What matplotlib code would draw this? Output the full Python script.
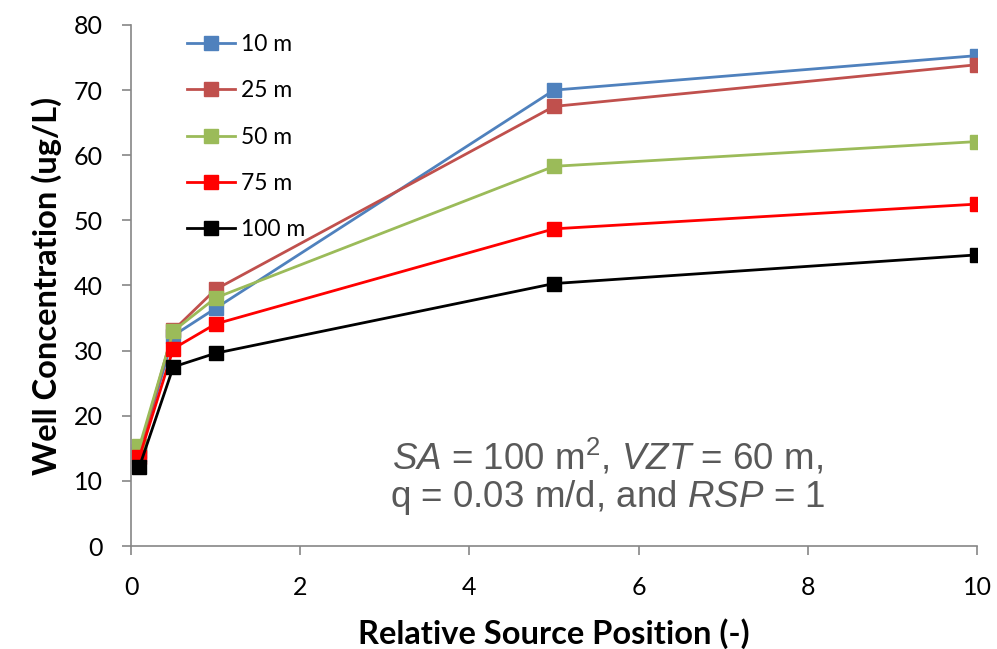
import matplotlib.pyplot as plt

# relative source position and well concentration for each distance
x_pos = [0.1, 0.5, 1, 5, 10]
labels = ['10 m', '25 m', '50 m', '75 m', '100 m']
conc_10 = [14.2, 32.3, 36.5, 70.0, 75.3]
conc_25 = [14.6, 33.1, 39.4, 67.5, 73.9]
conc_50 = [15.3, 33.0, 38.1, 58.3, 62.1]
conc_75 = [13.7, 30.3, 34.1, 48.7, 52.5]
conc_100 = [12.2, 27.5, 29.6, 40.3, 44.7]
colors = ['#4F81BD', '#C0504D', '#9BBB59', '#FF0000', '#000000']

plt.rcParams['font.family'] = ['Lato', 'DejaVu Sans']
plt.rcParams['mathtext.fontset'] = 'custom'
plt.rcParams['mathtext.rm'] = 'Liberation Sans'
plt.rcParams['mathtext.it'] = 'Liberation Sans:italic'

fig = plt.figure(figsize=(9.97, 6.49), dpi=100)
ax = fig.add_axes([0.1314, 0.1587, 0.8486, 0.8028])

for vals, lab, col in zip([conc_10, conc_25, conc_50, conc_75, conc_100], labels, colors):
    ax.plot(x_pos, vals, color=col, lw=2, marker='s', ms=10, label=lab)

ax.set_xlim(0, 10)
ax.set_ylim(0, 80)
ax.set_xticks([0, 2, 4, 6, 8, 10])
ax.set_yticks(range(0, 81, 10))
ax.tick_params(labelsize=18, length=6.5, width=1.2, color='#868686', direction='out')
ax.tick_params(axis='x', pad=15)
ax.tick_params(axis='y', pad=14)
for s in ['top', 'right']:
    ax.spines[s].set_visible(False)
for s in ['left', 'bottom']:
    ax.spines[s].set_color('#868686')
    ax.spines[s].set_linewidth(1.2)

ax.set_xlabel('Relative Source Position (-)', fontsize=23.5, fontweight='bold', labelpad=14)
ax.set_ylabel('Well Concentration (ug/L)', fontsize=23.5, fontweight='bold', labelpad=8)

ax.legend(loc='upper left', bbox_to_anchor=(0.042, 1.022), frameon=False, fontsize=16.5,
          handlelength=2.1, labelspacing=1.1, handletextpad=0.25)

ax.text(0.563, 0.132, '$\\mathit{SA}$ = 100 m$^2$, $\\mathit{VZT}$ = 60 m,\nq = 0.03 m/d, and $\\mathit{RSP}$ = 1',
        transform=ax.transAxes, ha='center', va='center', fontsize=26.5, color='#595959',
        family='Liberation Sans', linespacing=1.03)

fig.savefig('out.png', dpi=100)
